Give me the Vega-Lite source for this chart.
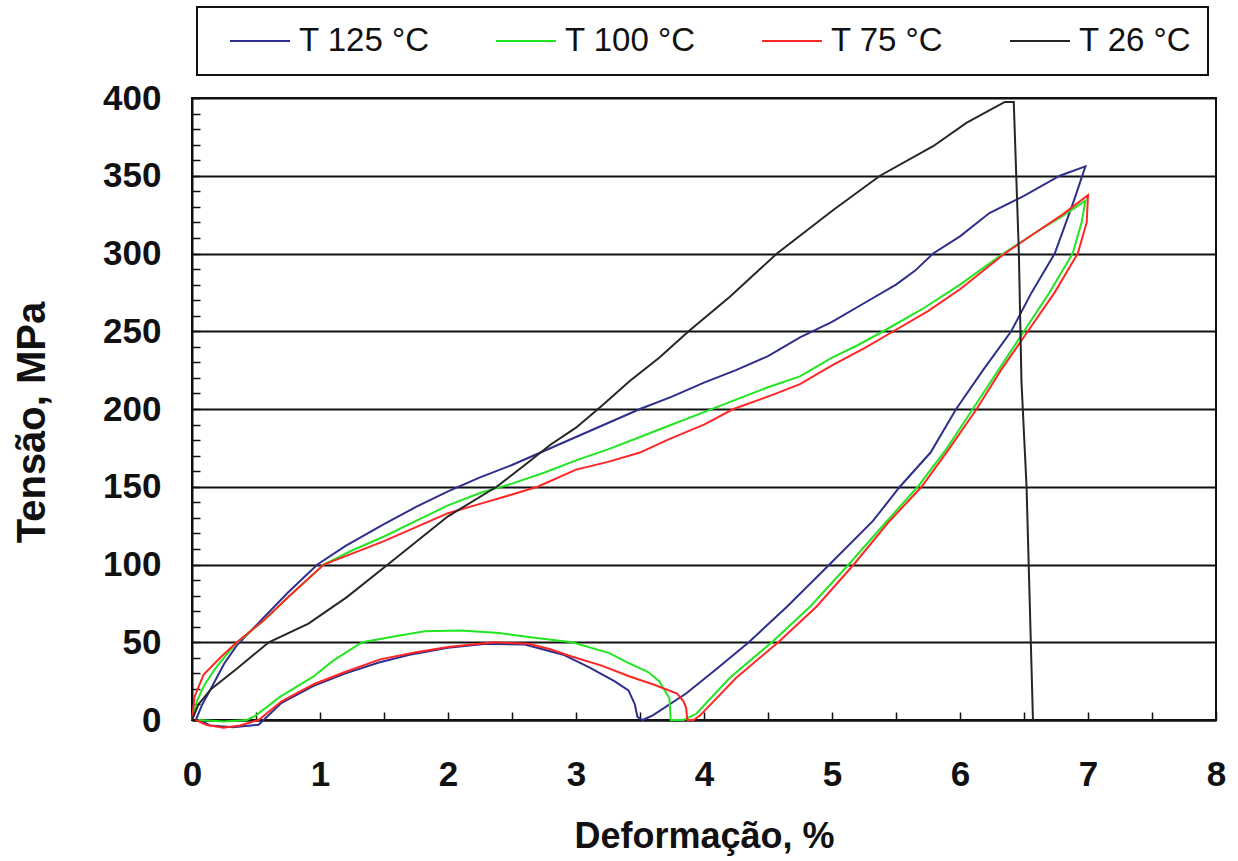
{
  "$schema": "https://vega.github.io/schema/vega-lite/v6.json",
  "width": 1024,
  "height": 622,
  "autosize": "none",
  "padding": {"left": 192, "top": 98, "right": 22, "bottom": 141},
  "background": "white",
  "datasets": {
    "curves": [
      {"s":"T 125 °C","i":0,"x":0.03,"y":0},{"s":"T 125 °C","i":1,"x":0.08,"y":10},{"s":"T 125 °C","i":2,"x":0.14,"y":19},{"s":"T 125 °C","i":3,"x":0.25,"y":36},{"s":"T 125 °C","i":4,"x":0.35,"y":48},{"s":"T 125 °C","i":5,"x":0.55,"y":65},{"s":"T 125 °C","i":6,"x":0.75,"y":82},{"s":"T 125 °C","i":7,"x":0.98,"y":100},{"s":"T 125 °C","i":8,"x":1.2,"y":112},{"s":"T 125 °C","i":9,"x":1.5,"y":126},{"s":"T 125 °C","i":10,"x":1.75,"y":137},{"s":"T 125 °C","i":11,"x":2.0,"y":147},{"s":"T 125 °C","i":12,"x":2.25,"y":156},{"s":"T 125 °C","i":13,"x":2.5,"y":164},{"s":"T 125 °C","i":14,"x":2.75,"y":173},{"s":"T 125 °C","i":15,"x":3.0,"y":182},{"s":"T 125 °C","i":16,"x":3.25,"y":191},{"s":"T 125 °C","i":17,"x":3.5,"y":200},{"s":"T 125 °C","i":18,"x":3.75,"y":208},{"s":"T 125 °C","i":19,"x":4.0,"y":217},{"s":"T 125 °C","i":20,"x":4.25,"y":225},{"s":"T 125 °C","i":21,"x":4.5,"y":234},{"s":"T 125 °C","i":22,"x":4.75,"y":246},{"s":"T 125 °C","i":23,"x":5.0,"y":256},{"s":"T 125 °C","i":24,"x":5.25,"y":268},{"s":"T 125 °C","i":25,"x":5.5,"y":280},{"s":"T 125 °C","i":26,"x":5.65,"y":289},{"s":"T 125 °C","i":27,"x":5.79,"y":300},{"s":"T 125 °C","i":28,"x":6.0,"y":311},{"s":"T 125 °C","i":29,"x":6.23,"y":326},{"s":"T 125 °C","i":30,"x":6.5,"y":337},{"s":"T 125 °C","i":31,"x":6.78,"y":350},{"s":"T 125 °C","i":32,"x":6.98,"y":356},
      {"s":"T 125 °C","i":33,"x":6.89,"y":334},{"s":"T 125 °C","i":34,"x":6.74,"y":300},{"s":"T 125 °C","i":35,"x":6.56,"y":275},{"s":"T 125 °C","i":36,"x":6.4,"y":250},{"s":"T 125 °C","i":37,"x":6.18,"y":225},{"s":"T 125 °C","i":38,"x":5.97,"y":200},{"s":"T 125 °C","i":39,"x":5.77,"y":172},{"s":"T 125 °C","i":40,"x":5.53,"y":150},{"s":"T 125 °C","i":41,"x":5.32,"y":128},{"s":"T 125 °C","i":42,"x":4.98,"y":100},{"s":"T 125 °C","i":43,"x":4.65,"y":73},{"s":"T 125 °C","i":44,"x":4.35,"y":50},{"s":"T 125 °C","i":45,"x":4.1,"y":33},{"s":"T 125 °C","i":46,"x":3.86,"y":17},{"s":"T 125 °C","i":47,"x":3.6,"y":3},{"s":"T 125 °C","i":48,"x":3.52,"y":0},
      {"s":"T 125 °C","i":49,"x":3.48,"y":2},{"s":"T 125 °C","i":50,"x":3.46,"y":10},{"s":"T 125 °C","i":51,"x":3.41,"y":19},{"s":"T 125 °C","i":52,"x":3.3,"y":25},{"s":"T 125 °C","i":53,"x":3.1,"y":34},{"s":"T 125 °C","i":54,"x":2.9,"y":42},{"s":"T 125 °C","i":55,"x":2.6,"y":48.5},{"s":"T 125 °C","i":56,"x":2.3,"y":49},{"s":"T 125 °C","i":57,"x":2.0,"y":46.5},{"s":"T 125 °C","i":58,"x":1.7,"y":42},{"s":"T 125 °C","i":59,"x":1.46,"y":37},{"s":"T 125 °C","i":60,"x":1.2,"y":30},{"s":"T 125 °C","i":61,"x":0.95,"y":22},{"s":"T 125 °C","i":62,"x":0.7,"y":11},{"s":"T 125 °C","i":63,"x":0.52,"y":-3},{"s":"T 125 °C","i":64,"x":0.32,"y":-4.6},{"s":"T 125 °C","i":65,"x":0.14,"y":-3.5},{"s":"T 125 °C","i":66,"x":0.06,"y":0},

      {"s":"T 100 °C","i":0,"x":0,"y":0},{"s":"T 100 °C","i":1,"x":0.04,"y":12.5},{"s":"T 100 °C","i":2,"x":0.1,"y":23},{"s":"T 100 °C","i":3,"x":0.19,"y":34},{"s":"T 100 °C","i":4,"x":0.34,"y":49},{"s":"T 100 °C","i":5,"x":0.56,"y":64},{"s":"T 100 °C","i":6,"x":0.75,"y":79},{"s":"T 100 °C","i":7,"x":1.03,"y":100},{"s":"T 100 °C","i":8,"x":1.25,"y":109},{"s":"T 100 °C","i":9,"x":1.5,"y":118},{"s":"T 100 °C","i":10,"x":1.75,"y":128},{"s":"T 100 °C","i":11,"x":2.0,"y":138},{"s":"T 100 °C","i":12,"x":2.25,"y":146},{"s":"T 100 °C","i":13,"x":2.5,"y":152},{"s":"T 100 °C","i":14,"x":2.75,"y":159},{"s":"T 100 °C","i":15,"x":3.0,"y":167},{"s":"T 100 °C","i":16,"x":3.25,"y":174},{"s":"T 100 °C","i":17,"x":3.5,"y":182},{"s":"T 100 °C","i":18,"x":3.75,"y":190},{"s":"T 100 °C","i":19,"x":4.0,"y":198},{"s":"T 100 °C","i":20,"x":4.25,"y":206},{"s":"T 100 °C","i":21,"x":4.5,"y":214},{"s":"T 100 °C","i":22,"x":4.75,"y":221},{"s":"T 100 °C","i":23,"x":5.0,"y":233},{"s":"T 100 °C","i":24,"x":5.2,"y":241},{"s":"T 100 °C","i":25,"x":5.4,"y":250},{"s":"T 100 °C","i":26,"x":5.7,"y":264},{"s":"T 100 °C","i":27,"x":6.0,"y":280},{"s":"T 100 °C","i":28,"x":6.34,"y":300},{"s":"T 100 °C","i":29,"x":6.6,"y":314},{"s":"T 100 °C","i":30,"x":6.8,"y":324},{"s":"T 100 °C","i":31,"x":6.98,"y":334},
      {"s":"T 100 °C","i":32,"x":6.95,"y":320},{"s":"T 100 °C","i":33,"x":6.88,"y":300},{"s":"T 100 °C","i":34,"x":6.7,"y":275},{"s":"T 100 °C","i":35,"x":6.5,"y":250},{"s":"T 100 °C","i":36,"x":6.3,"y":225},{"s":"T 100 °C","i":37,"x":6.1,"y":200},{"s":"T 100 °C","i":38,"x":5.9,"y":175},{"s":"T 100 °C","i":39,"x":5.67,"y":150},{"s":"T 100 °C","i":40,"x":5.43,"y":128},{"s":"T 100 °C","i":41,"x":5.13,"y":100},{"s":"T 100 °C","i":42,"x":4.83,"y":73},{"s":"T 100 °C","i":43,"x":4.53,"y":50},{"s":"T 100 °C","i":44,"x":4.2,"y":27},{"s":"T 100 °C","i":45,"x":3.94,"y":4},{"s":"T 100 °C","i":46,"x":3.84,"y":0},{"s":"T 100 °C","i":47,"x":3.74,"y":0},
      {"s":"T 100 °C","i":48,"x":3.73,"y":14},{"s":"T 100 °C","i":49,"x":3.65,"y":25},{"s":"T 100 °C","i":50,"x":3.56,"y":31},{"s":"T 100 °C","i":51,"x":3.4,"y":37},{"s":"T 100 °C","i":52,"x":3.26,"y":43},{"s":"T 100 °C","i":53,"x":2.97,"y":50},{"s":"T 100 °C","i":54,"x":2.66,"y":53},{"s":"T 100 °C","i":55,"x":2.4,"y":56},{"s":"T 100 °C","i":56,"x":2.1,"y":57.5},{"s":"T 100 °C","i":57,"x":1.82,"y":57},{"s":"T 100 °C","i":58,"x":1.6,"y":54},{"s":"T 100 °C","i":59,"x":1.33,"y":50},{"s":"T 100 °C","i":60,"x":1.1,"y":38},{"s":"T 100 °C","i":61,"x":0.95,"y":28},{"s":"T 100 °C","i":62,"x":0.69,"y":15},{"s":"T 100 °C","i":63,"x":0.5,"y":3},{"s":"T 100 °C","i":64,"x":0.43,"y":0},{"s":"T 100 °C","i":65,"x":0.25,"y":-1},{"s":"T 100 °C","i":66,"x":0.05,"y":0},

      {"s":"T 75 °C","i":0,"x":0,"y":0},{"s":"T 75 °C","i":1,"x":0.02,"y":15},{"s":"T 75 °C","i":2,"x":0.09,"y":29},{"s":"T 75 °C","i":3,"x":0.22,"y":40},{"s":"T 75 °C","i":4,"x":0.35,"y":50},{"s":"T 75 °C","i":5,"x":0.56,"y":64},{"s":"T 75 °C","i":6,"x":0.75,"y":79},{"s":"T 75 °C","i":7,"x":1.03,"y":100},{"s":"T 75 °C","i":8,"x":1.25,"y":107},{"s":"T 75 °C","i":9,"x":1.5,"y":115},{"s":"T 75 °C","i":10,"x":1.75,"y":124},{"s":"T 75 °C","i":11,"x":2.0,"y":133},{"s":"T 75 °C","i":12,"x":2.25,"y":139},{"s":"T 75 °C","i":13,"x":2.5,"y":145},{"s":"T 75 °C","i":14,"x":2.7,"y":150},{"s":"T 75 °C","i":15,"x":3.0,"y":161},{"s":"T 75 °C","i":16,"x":3.25,"y":166},{"s":"T 75 °C","i":17,"x":3.5,"y":172},{"s":"T 75 °C","i":18,"x":3.71,"y":180},{"s":"T 75 °C","i":19,"x":4.0,"y":190},{"s":"T 75 °C","i":20,"x":4.23,"y":200},{"s":"T 75 °C","i":21,"x":4.5,"y":208},{"s":"T 75 °C","i":22,"x":4.75,"y":216},{"s":"T 75 °C","i":23,"x":5.0,"y":228},{"s":"T 75 °C","i":24,"x":5.25,"y":239},{"s":"T 75 °C","i":25,"x":5.48,"y":250},{"s":"T 75 °C","i":26,"x":5.75,"y":263},{"s":"T 75 °C","i":27,"x":6.0,"y":277},{"s":"T 75 °C","i":28,"x":6.35,"y":300},{"s":"T 75 °C","i":29,"x":6.6,"y":314},{"s":"T 75 °C","i":30,"x":6.8,"y":325},{"s":"T 75 °C","i":31,"x":7.0,"y":337.5},
      {"s":"T 75 °C","i":32,"x":6.99,"y":320},{"s":"T 75 °C","i":33,"x":6.92,"y":300},{"s":"T 75 °C","i":34,"x":6.74,"y":275},{"s":"T 75 °C","i":35,"x":6.53,"y":250},{"s":"T 75 °C","i":36,"x":6.32,"y":225},{"s":"T 75 °C","i":37,"x":6.13,"y":200},{"s":"T 75 °C","i":38,"x":5.92,"y":175},{"s":"T 75 °C","i":39,"x":5.7,"y":150},{"s":"T 75 °C","i":40,"x":5.45,"y":128},{"s":"T 75 °C","i":41,"x":5.17,"y":100},{"s":"T 75 °C","i":42,"x":4.88,"y":73},{"s":"T 75 °C","i":43,"x":4.58,"y":50},{"s":"T 75 °C","i":44,"x":4.25,"y":27},{"s":"T 75 °C","i":45,"x":3.97,"y":3},{"s":"T 75 °C","i":46,"x":3.92,"y":0},
      {"s":"T 75 °C","i":47,"x":3.87,"y":0},{"s":"T 75 °C","i":48,"x":3.86,"y":8},{"s":"T 75 °C","i":49,"x":3.84,"y":12},{"s":"T 75 °C","i":50,"x":3.79,"y":17},{"s":"T 75 °C","i":51,"x":3.6,"y":23},{"s":"T 75 °C","i":52,"x":3.42,"y":28},{"s":"T 75 °C","i":53,"x":3.2,"y":35},{"s":"T 75 °C","i":54,"x":2.96,"y":41},{"s":"T 75 °C","i":55,"x":2.8,"y":45.5},{"s":"T 75 °C","i":56,"x":2.63,"y":49},{"s":"T 75 °C","i":57,"x":2.36,"y":50},{"s":"T 75 °C","i":58,"x":2.0,"y":47},{"s":"T 75 °C","i":59,"x":1.75,"y":43.5},{"s":"T 75 °C","i":60,"x":1.47,"y":39},{"s":"T 75 °C","i":61,"x":1.2,"y":31},{"s":"T 75 °C","i":62,"x":0.95,"y":23},{"s":"T 75 °C","i":63,"x":0.7,"y":12},{"s":"T 75 °C","i":64,"x":0.52,"y":0},{"s":"T 75 °C","i":65,"x":0.375,"y":-3.5},{"s":"T 75 °C","i":66,"x":0.245,"y":-5},{"s":"T 75 °C","i":67,"x":0.11,"y":-3},{"s":"T 75 °C","i":68,"x":0.03,"y":0},

      {"s":"T 26 °C","i":0,"x":0,"y":0},{"s":"T 26 °C","i":1,"x":0.05,"y":10},{"s":"T 26 °C","i":2,"x":0.15,"y":20},{"s":"T 26 °C","i":3,"x":0.35,"y":33},{"s":"T 26 °C","i":4,"x":0.6,"y":50},{"s":"T 26 °C","i":5,"x":0.91,"y":62},{"s":"T 26 °C","i":6,"x":1.21,"y":79},{"s":"T 26 °C","i":7,"x":1.53,"y":100},{"s":"T 26 °C","i":8,"x":2.0,"y":131},{"s":"T 26 °C","i":9,"x":2.38,"y":150},{"s":"T 26 °C","i":10,"x":2.6,"y":164},{"s":"T 26 °C","i":11,"x":2.8,"y":177},{"s":"T 26 °C","i":12,"x":3.0,"y":188},{"s":"T 26 °C","i":13,"x":3.2,"y":202},{"s":"T 26 °C","i":14,"x":3.42,"y":218},{"s":"T 26 °C","i":15,"x":3.65,"y":233},{"s":"T 26 °C","i":16,"x":3.88,"y":250},{"s":"T 26 °C","i":17,"x":4.2,"y":272},{"s":"T 26 °C","i":18,"x":4.57,"y":300},{"s":"T 26 °C","i":19,"x":5.01,"y":328},{"s":"T 26 °C","i":20,"x":5.375,"y":350},{"s":"T 26 °C","i":21,"x":5.79,"y":369},{"s":"T 26 °C","i":22,"x":6.05,"y":384},{"s":"T 26 °C","i":23,"x":6.35,"y":397.5},{"s":"T 26 °C","i":24,"x":6.42,"y":397.5},{"s":"T 26 °C","i":25,"x":6.46,"y":300},{"s":"T 26 °C","i":26,"x":6.48,"y":218},{"s":"T 26 °C","i":27,"x":6.52,"y":150},{"s":"T 26 °C","i":28,"x":6.57,"y":0}
    ]
  },
  "data": {"name": "curves"},
  "resolve": {"axis": {"x": "independent", "y": "independent"}},
  "layer": [
    {
      "mark": {"type": "line", "strokeWidth": 2, "clip": false, "interpolate": "linear"},
      "encoding": {
        "x": {
          "field": "x", "type": "quantitative",
          "scale": {"domain": [0, 8], "nice": false, "zero": false},
          "axis": {
            "orient": "bottom",
            "title": "Deformação, %",
            "values": [0, 1, 2, 3, 4, 5, 6, 7, 8],
            "format": "~g",
            "labelFlush": false,
            "grid": false,
            "ticks": false,
            "labelPadding": 37,
            "titleY": 116,
            "titleBaseline": "middle"
          }
        },
        "y": {
          "field": "y", "type": "quantitative",
          "scale": {"domain": [0, 400], "nice": false},
          "axis": {
            "orient": "left",
            "title": "Tensão, MPa",
            "values": [0, 50, 100, 150, 200, 250, 300, 350, 400],
            "labelFlush": false,
            "grid": true,
            "ticks": false,
            "labelPadding": 31,
            "titleX": -160,
            "titleY": 324,
            "titleBaseline": "middle"
          }
        },
        "color": {
          "field": "s", "type": "nominal",
          "scale": {
            "domain": ["T 125 °C", "T 100 °C", "T 75 °C", "T 26 °C"],
            "range": ["#2e2f8c", "#22e622", "#ff2626", "#262626"]
          },
          "legend": {
            "title": null,
            "orient": "none",
            "legendX": 5,
            "legendY": -91,
            "direction": "horizontal",
            "columns": 4,
            "symbolType": "stroke",
            "symbolSize": 3600,
            "symbolStrokeWidth": 2,
            "symbolOffset": 16,
            "clipHeight": 36,
            "labelOffset": 8,
            "columnPadding": 49,
            "padding": 16,
            "strokeColor": "#111111"
          }
        },
        "order": {"field": "i", "type": "quantitative"}
      }
    },
    {
      "mark": {"type": "point", "opacity": 0, "size": 1},
      "encoding": {
        "x": {
          "field": "x", "type": "quantitative",
          "axis": {
            "orient": "bottom",
            "title": null,
            "values": [0, 0.5, 1, 1.5, 2, 2.5, 3, 3.5, 4, 4.5, 5, 5.5, 6, 6.5, 7, 7.5, 8],
            "labels": false,
            "domain": false,
            "grid": false,
            "ticks": true,
            "tickSize": 8,
            "offset": -8
          }
        },
        "y": {
          "field": "y", "type": "quantitative",
          "axis": {
            "orient": "left",
            "title": null,
            "values": [0, 10, 20, 30, 40, 50, 60, 70, 80, 90, 100, 110, 120, 130, 140, 150, 160, 170, 180, 190, 200, 210, 220, 230, 240, 250, 260, 270, 280, 290, 300, 310, 320, 330, 340, 350, 360, 370, 380, 390, 400],
            "labels": false,
            "domain": false,
            "grid": false,
            "ticks": true,
            "tickSize": 8,
            "offset": -8
          }
        }
      }
    }
  ],
  "config": {
    "font": "Liberation Sans",
    "view": {"stroke": "#111111", "strokeWidth": 2},
    "axis": {
      "domainColor": "#111111",
      "domainWidth": 2,
      "tickColor": "#111111",
      "tickWidth": 1.5,
      "gridColor": "#111111",
      "gridWidth": 2,
      "labelFont": "Liberation Sans",
      "labelFontSize": 35,
      "labelFontWeight": "bold",
      "labelColor": "#111111",
      "labelOverlap": false,
      "titleFont": "Liberation Sans",
      "titleFontSize": 36,
      "titleFontWeight": "bold",
      "titleColor": "#111111"
    },
    "axisY": {"titleFontSize": 40},
    "legend": {
      "labelFont": "Liberation Sans",
      "labelFontSize": 33,
      "labelColor": "#111111",
      "strokeWidth": 2
    }
  }
}
